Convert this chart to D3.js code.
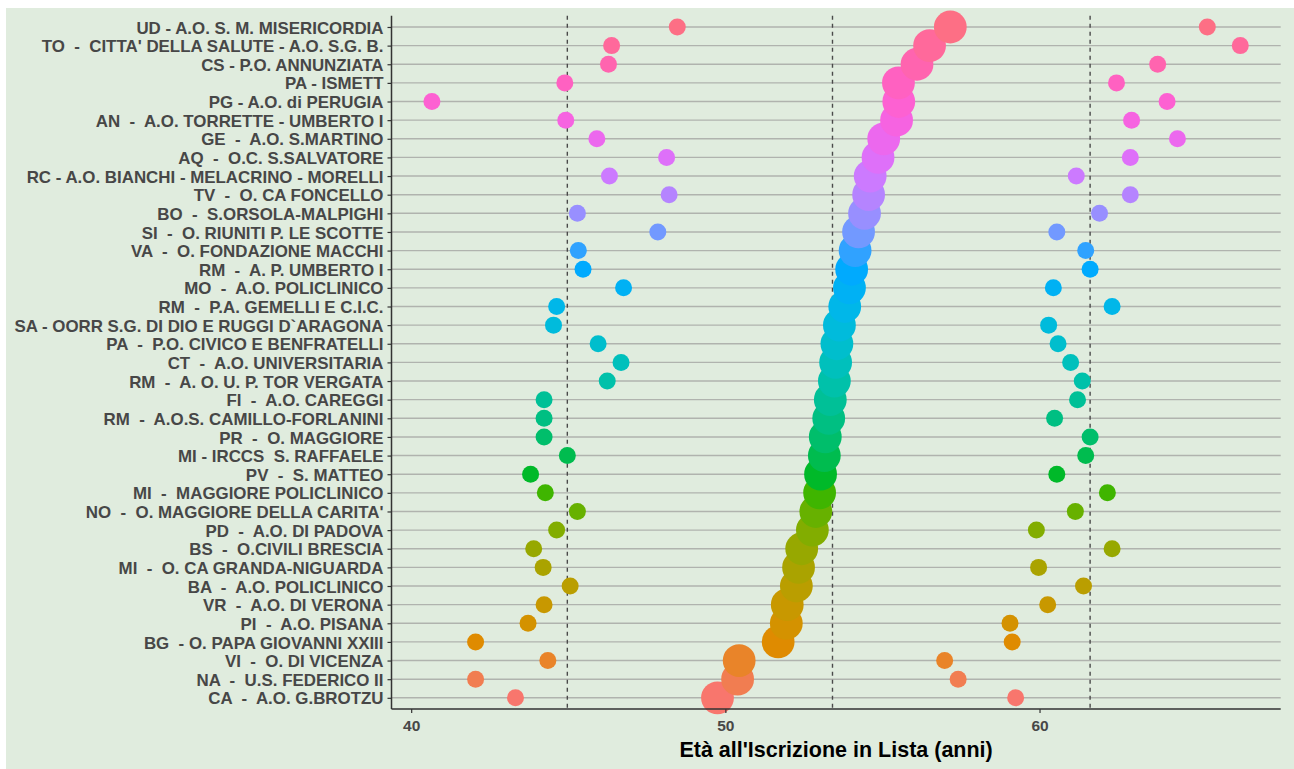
<!DOCTYPE html>
<html>
<head>
<meta charset="utf-8">
<script src="https://cdn.jsdelivr.net/npm/d3@7"></script>
<style>
  html, body { margin: 0; padding: 0; background: #ffffff; }
  svg { display: block; }
</style>
</head>
<body>
<svg id="chart" width="1294" height="769"></svg>
<script>
// ---------- DATA (top to bottom as displayed) ----------
const centers = [
  "UD - A.O. S. M. MISERICORDIA",
  "TO  -  CITTA' DELLA SALUTE - A.O. S.G. B.",
  "CS - P.O. ANNUNZIATA",
  "PA - ISMETT",
  "PG - A.O. di PERUGIA",
  "AN  -  A.O. TORRETTE - UMBERTO I",
  "GE  -  A.O. S.MARTINO",
  "AQ  -  O.C. S.SALVATORE",
  "RC - A.O. BIANCHI - MELACRINO - MORELLI",
  "TV  -  O. CA FONCELLO",
  "BO  -  S.ORSOLA-MALPIGHI",
  "SI  -  O. RIUNITI P. LE SCOTTE",
  "VA  -  O. FONDAZIONE MACCHI",
  "RM  -  A. P. UMBERTO I",
  "MO  -  A.O. POLICLINICO",
  "RM  -  P.A. GEMELLI E C.I.C.",
  "SA - OORR S.G. DI DIO E RUGGI D`ARAGONA",
  "PA  -  P.O. CIVICO E BENFRATELLI",
  "CT  -  A.O. UNIVERSITARIA",
  "RM  -  A. O. U. P. TOR VERGATA",
  "FI  -  A.O. CAREGGI",
  "RM  -  A.O.S. CAMILLO-FORLANINI",
  "PR  -  O. MAGGIORE",
  "MI - IRCCS  S. RAFFAELE",
  "PV  -  S. MATTEO",
  "MI  -  MAGGIORE POLICLINICO",
  "NO  -  O. MAGGIORE DELLA CARITA'",
  "PD  -  A.O. DI PADOVA",
  "BS  -  O.CIVILI BRESCIA",
  "MI  -  O. CA GRANDA-NIGUARDA",
  "BA  -  A.O. POLICLINICO",
  "VR  -  A.O. DI VERONA",
  "PI  -  A.O. PISANA",
  "BG  - O. PAPA GIOVANNI XXIII",
  "VI  -  O. DI VICENZA",
  "NA  -  U.S. FEDERICO II",
  "CA  -  A.O. G.BROTZU"
];
const q1 = [48.47, 46.38, 46.28, 44.89, 40.66, 44.92, 45.91, 48.13, 46.31, 48.21,
            45.29, 47.85, 45.32, 45.47, 46.76, 44.63, 44.53, 45.95, 46.68, 46.24,
            44.23, 44.23, 44.23, 44.97, 43.80, 44.27, 45.29, 44.63, 43.90, 44.20,
            45.06, 44.23, 43.72, 42.05, 44.35, 42.05, 43.32];
const median = [57.16, 56.50, 56.10, 55.51, 55.52, 55.45, 55.04, 54.86, 54.61, 54.56,
                54.43, 54.24, 54.13, 54.02, 53.95, 53.80, 53.63, 53.55, 53.51, 53.47,
                53.34, 53.29, 53.18, 53.15, 53.03, 53.00, 52.88, 52.77, 52.43, 52.33,
                52.26, 51.97, 51.94, 51.68, 50.44, 50.39, 49.75];
const q3 = [65.34, 66.39, 63.76, 62.45, 64.06, 62.93, 64.39, 62.89, 61.17, 62.89,
            61.91, 60.55, 61.47, 61.61, 60.44, 62.31, 60.29, 60.59, 60.99, 61.36,
            61.21, 60.48, 61.61, 61.47, 60.55, 62.16, 61.14, 59.90, 62.31, 59.97,
            61.40, 60.26, 59.06, 59.13, 56.98, 57.41, 59.24];
const refLines = [44.97, 53.41, 61.61];
const xTicks = [40, 50, 60];
const xTitle = "Età all'Iscrizione in Lista (anni)";

// ---------- ggplot2-like hue palette (polar LUV) ----------
function hclLuv(h, c, l) {
  const Xn = 95.047, Yn = 100.0, Zn = 108.883;
  const hr = h * Math.PI / 180;
  const U = c * Math.cos(hr), V = c * Math.sin(hr);
  const Y = Yn * (l > 8 ? Math.pow((l + 16) / 116, 3) : l / 903.2963);
  const den = Xn + 15 * Yn + 3 * Zn;
  const un = 4 * Xn / den, vn = 9 * Yn / den;
  const u = U / (13 * l) + un, v = V / (13 * l) + vn;
  const X = 9.0 * Y * u / (4 * v);
  const Z = -X / 3 - 5 * Y + 3 * Y / v;
  const x = X / 100, y = Y / 100, z = Z / 100;
  let r = 3.240479 * x - 1.537150 * y - 0.498535 * z;
  let g = -0.969256 * x + 1.875992 * y + 0.041556 * z;
  let b = 0.055648 * x - 0.204043 * y + 1.057311 * z;
  const gam = t => t > 0.00304 ? 1.055 * Math.pow(t, 1 / 2.4) - 0.055 : 12.92 * t;
  const cl = t => Math.max(0, Math.min(255, Math.round(255 * gam(t))));
  return d3.rgb(cl(r), cl(g), cl(b)).formatHex();
}
const n = centers.length;
const palette = d3.range(n).map(i => hclLuv(15 + 360 * i / n, 100, 65));

// rows: level index = bottom-first (CA = level 0)
const rows = centers.map((name, i) => ({
  name, q1: q1[i], med: median[i], q3: q3[i], level: n - 1 - i
}));
const drawOrder = rows.slice().sort((a, b) => a.level - b.level);

// ---------- LAYOUT ----------
const W = 1294, H = 769;
const panel = { left: 391.5, right: 1280.7, top: 15.8, bottom: 709 };
const bg = "#e0ecde";

const svg = d3.select("#chart");
svg.append("rect").attr("x", 0).attr("y", 0).attr("width", W).attr("height", H).attr("fill", "#ffffff");
svg.append("rect").attr("x", 6).attr("y", 8).attr("width", W - 6).attr("height", H - 8).attr("fill", bg);

const lo = d3.min(q1), hi = d3.max(q3), ex = (hi - lo) * 0.05;
const x = d3.scaleLinear().domain([lo - ex, hi + ex]).range([panel.left, panel.right]);
const y = d3.scalePoint().domain(centers).range([panel.top, panel.bottom]).padding(0.6);

// horizontal gridlines
svg.append("g").selectAll("line").data(centers).join("line")
  .attr("x1", panel.left).attr("x2", panel.right)
  .attr("y1", d => y(d)).attr("y2", d => y(d))
  .attr("stroke", "#b0b3ae").attr("stroke-width", 1.4);

// dashed reference lines
svg.append("g").selectAll("line").data(refLines).join("line")
  .attr("x1", d => x(d)).attr("x2", d => x(d))
  .attr("y1", panel.top).attr("y2", panel.bottom)
  .attr("stroke", "#4a4a4a").attr("stroke-width", 1.4)
  .attr("stroke-dasharray", "4,4");

// small points: q1 and q3
const pts = svg.append("g");
pts.selectAll("circle.q1").data(drawOrder).join("circle").attr("class", "q1")
  .attr("cx", d => x(d.q1)).attr("cy", d => y(d.name)).attr("r", 8.5)
  .attr("fill", d => palette[d.level]);
pts.selectAll("circle.q3").data(drawOrder).join("circle").attr("class", "q3")
  .attr("cx", d => x(d.q3)).attr("cy", d => y(d.name)).attr("r", 8.5)
  .attr("fill", d => palette[d.level]);
// big points: median
pts.selectAll("circle.med").data(drawOrder).join("circle").attr("class", "med")
  .attr("cx", d => x(d.med)).attr("cy", d => y(d.name)).attr("r", 16.4)
  .attr("fill", d => palette[d.level]);

// axes
const yAxis = d3.axisLeft(y).tickSize(4).tickPadding(4);
const gy = svg.append("g").attr("transform", `translate(${panel.left},0)`).call(yAxis);
gy.select(".domain").remove();
gy.selectAll(".tick line").attr("stroke", "#333333").attr("stroke-width", 1.2);
gy.selectAll(".tick text")
  .attr("fill", "#474747")
  .style("font-family", "'Liberation Sans', Arial, sans-serif")
  .style("font-weight", "bold")
  .style("font-size", "16.9px")
  .style("white-space", "pre")
  .attr("dy", "0.36em");

const xAxis = d3.axisBottom(x).tickValues(xTicks).tickFormat(d3.format("d")).tickSize(4).tickPadding(4);
const gx = svg.append("g").attr("transform", `translate(0,${panel.bottom})`).call(xAxis);
gx.select(".domain").remove();
gx.selectAll(".tick line").attr("stroke", "#333333").attr("stroke-width", 1.2);
gx.selectAll(".tick text")
  .attr("fill", "#474747")
  .style("font-family", "'Liberation Sans', Arial, sans-serif")
  .style("font-weight", "bold")
  .style("font-size", "15.5px")
  .attr("dy", "0.9em");

// axis lines
svg.append("line").attr("x1", panel.left).attr("x2", panel.left)
  .attr("y1", panel.top).attr("y2", panel.bottom)
  .attr("stroke", "#333333").attr("stroke-width", 1.5);
svg.append("line").attr("x1", panel.left).attr("x2", panel.right)
  .attr("y1", panel.bottom).attr("y2", panel.bottom)
  .attr("stroke", "#333333").attr("stroke-width", 1.5);

// x title
svg.append("text")
  .attr("x", (panel.left + panel.right) / 2).attr("y", 757)
  .attr("text-anchor", "middle")
  .style("font-family", "'Liberation Sans', Arial, sans-serif")
  .style("font-weight", "bold")
  .style("font-size", "21.5px")
  .attr("fill", "#000000")
  .text(xTitle);
</script>
</body>
</html>
